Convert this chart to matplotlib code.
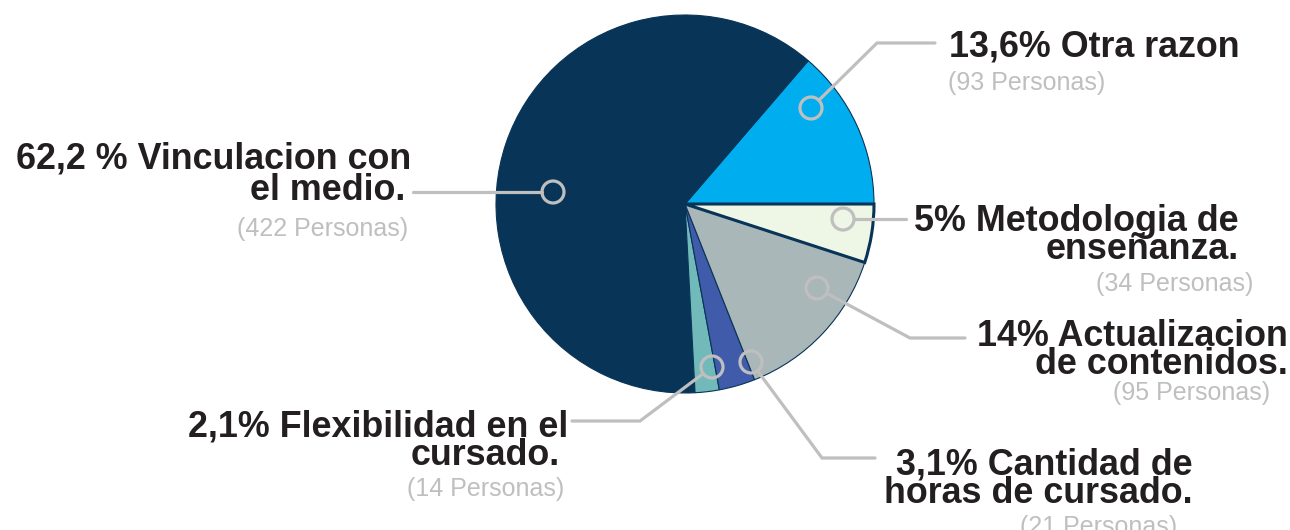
import numpy as np
import matplotlib.pyplot as plt
from matplotlib.patches import Circle

# datos
categorias = ['Otra razon', 'Vinculacion con el medio.', 'Flexibilidad en el cursado.',
              'Cantidad de horas de cursado.', 'Actualizacion de contenidos.',
              'Metodologia de enseñanza.']
personas = [93, 422, 14, 21, 95, 34]
colores = ['#00AEEF', '#083457', '#72B9BA', '#3F5BA9', '#AAB7B8', '#EEF6E6']

# textos de las etiquetas (lineas en negrita + cantidad)
titulos = [
    ['13,6% Otra razon'],
    ['62,2 % Vinculacion con', 'el medio.'],
    ['2,1% Flexibilidad en el', 'cursado.'],
    ['3,1% Cantidad de', 'horas de cursado.'],
    ['14% Actualizacion', 'de contenidos.'],
    ['5% Metodologia de', 'enseñanza.'],
]
subtitulos = ['(%d Personas)' % p for p in personas]

# geometria (pixeles, y hacia abajo)
centro = (685, 204)
radio = 189
# puntos de las lineas guia: anillo -> codo -> fin
guias = [
    [(811, 108), (877, 43), (935, 43)],
    [(553, 192), (413, 192)],
    [(712, 367), (640, 421), (572, 421)],
    [(751, 362), (822, 458), (875, 458)],
    [(817, 288), (910, 338), (965, 338)],
    [(843, 219), (906, 219)],
]
# (x, baseline, alineacion) de cada linea de texto
pos_titulos = [
    [(949, 56, 'left')],
    [(411, 168, 'right'), (405, 200, 'right')],
    [(568, 436, 'right'), (560, 465, 'right')],
    [(1193, 475, 'right'), (1193, 503, 'right')],
    [(1288, 346, 'right'), (1288, 374, 'right')],
    [(1239, 231, 'right'), (1239, 259, 'right')],
]
pos_sub = [
    (948, 90, 'left'),
    (408, 236, 'right'),
    (564, 496, 'right'),
    (1177, 534, 'right'),
    (1270, 400, 'right'),
    (1253, 291, 'right'),
]

gris = '#BFBFBF'
negro = '#231F20'

fig = plt.figure(figsize=(12.9, 5.3), dpi=100)
ax = fig.add_axes([0, 0, 1, 1])

wedges, _ = ax.pie(personas, colors=colores, startangle=0, counterclock=False,
                   center=centro, radius=radio,
                   wedgeprops=dict(edgecolor='#083457', linewidth=0.8))
wedges[-1].set_linewidth(2.2)
wedges[-1].set_zorder(3)

ax.set_xlim(0, 1290)
ax.set_ylim(530, 0)
ax.set_aspect('equal')
ax.axis('off')

r_anillo = 11
for pts in guias:
    pts = np.array(pts, dtype=float)
    d = pts[1] - pts[0]
    inicio = pts[0] + d / np.linalg.norm(d) * r_anillo
    xs = np.r_[inicio[0], pts[1:, 0]]
    ys = np.r_[inicio[1], pts[1:, 1]]
    ax.plot(xs, ys, color=gris, lw=2.3, solid_capstyle='round',
            solid_joinstyle='miter', zorder=4)
    ax.add_patch(Circle(pts[0], r_anillo, fill=False, edgecolor=gris, lw=2.3, zorder=5))

for lineas, posiciones in zip(titulos, pos_titulos):
    for txt, (x, y, ha) in zip(lineas, posiciones):
        ax.text(x, y, txt, ha=ha, va='baseline', fontsize=25.8, fontweight='bold',
                family='Liberation Sans', color=negro)

for txt, (x, y, ha) in zip(subtitulos, pos_sub):
    ax.text(x, y, txt, ha=ha, va='baseline', fontsize=18,
            family='Liberation Sans', color=gris, clip_on=False)

fig.savefig('out.png', dpi=100)
